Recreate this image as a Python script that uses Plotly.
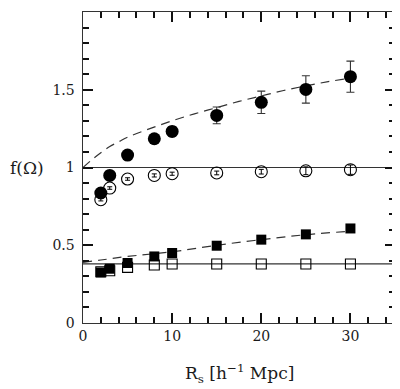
import plotly.graph_objects as go

# Data
rs = [2, 3, 5, 8, 10, 15, 20, 25, 30]
f_filled_circ = [0.836, 0.949, 1.08, 1.185, 1.232, 1.335, 1.419, 1.502, 1.584]
err_filled_circ = [0.01, 0.01, 0.015, 0.02, 0.03, 0.054, 0.072, 0.088, 0.10]
f_open_circ = [0.793, 0.868, 0.926, 0.949, 0.96, 0.965, 0.973, 0.979, 0.986]
err_open_circ = [0.008, 0.008, 0.008, 0.01, 0.01, 0.012, 0.015, 0.025, 0.03]
f_filled_sq = [0.325, 0.349, 0.386, 0.428, 0.45, 0.497, 0.536, 0.570, 0.608]
f_open_sq = [0.33, 0.336, 0.358, 0.373, 0.379, 0.379, 0.379, 0.379, 0.379]

curve_x_hi = [0, 1, 2, 3, 4, 5, 7.5, 10, 12.5, 15, 17.5, 20, 22.5, 25, 27.5, 30]
curve_y_hi = [1.0, 1.05, 1.095, 1.135, 1.165, 1.195, 1.25, 1.30, 1.345, 1.385, 1.425, 1.46, 1.495, 1.525, 1.552, 1.575]
curve_x_lo = [0, 2, 5, 10, 15, 20, 25, 30]
curve_y_lo = [0.39, 0.405, 0.428, 0.458, 0.50, 0.536, 0.568, 0.59]

hline_hi = 1.0
hline_lo = 0.38
x_range = [0, 35]
y_range = [0, 2]

line_col = "#333333"
tick_col = "#111111"
text_col = "#1a1a1a"
font_fam = "DejaVu Serif"

fig = go.Figure()

# horizontal reference lines
fig.add_trace(go.Scatter(x=x_range, y=[hline_hi, hline_hi], mode="lines",
                         line=dict(color=line_col, width=1.2), showlegend=False))
fig.add_trace(go.Scatter(x=x_range, y=[hline_lo, hline_lo], mode="lines",
                         line=dict(color=line_col, width=1.2), showlegend=False))
# dashed curves
fig.add_trace(go.Scatter(x=curve_x_hi, y=curve_y_hi, mode="lines", line_shape="spline",
                         line=dict(color=line_col, width=1.2, dash="9px,6px"), showlegend=False))
fig.add_trace(go.Scatter(x=curve_x_lo, y=curve_y_lo, mode="lines", line_shape="spline",
                         line=dict(color=line_col, width=1.2, dash="9px,6px"), showlegend=False))

# open symbols first
fig.add_trace(go.Scatter(x=rs, y=f_open_circ, mode="markers",
                         marker=dict(symbol="circle-open", size=12, color="black", line=dict(width=1.1)),
                         error_y=dict(type="data", array=err_open_circ, color="black", thickness=1, width=2.5),
                         showlegend=False))
fig.add_trace(go.Scatter(x=rs, y=f_open_sq, mode="markers",
                         marker=dict(symbol="square-open", size=10, color="black", line=dict(width=1.1)),
                         showlegend=False))
# filled symbols
fig.add_trace(go.Scatter(x=rs, y=f_filled_circ, mode="markers",
                         marker=dict(symbol="circle", size=13, color="black"),
                         error_y=dict(type="data", array=err_filled_circ, color=line_col, thickness=1.1, width=4),
                         showlegend=False))
fig.add_trace(go.Scatter(x=rs, y=f_filled_sq, mode="markers",
                         marker=dict(symbol="square", size=10, color="black"),
                         showlegend=False))

fig.update_xaxes(range=x_range, dtick=10, tick0=0, ticks="inside", ticklen=10, tickwidth=1.5,
                 tickcolor=tick_col, showline=True, linecolor=line_col, linewidth=1.2,
                 mirror="allticks",
                 tickfont=dict(family=font_fam, size=14, color=text_col),
                 minor=dict(dtick=2, ticklen=6, ticks="inside", tickcolor=tick_col, tickwidth=1.5))
fig.update_yaxes(range=y_range, dtick=0.5, tick0=0, ticks="inside", ticklen=10, tickwidth=1.5,
                 tickcolor=tick_col, showline=True, linecolor=line_col, linewidth=1.2,
                 mirror="allticks", ticksuffix="\u00a0",
                 tickfont=dict(family=font_fam, size=14, color=text_col),
                 minor=dict(dtick=0.1, ticklen=6, ticks="inside", tickcolor=tick_col, tickwidth=1.5))

fig.add_annotation(text="f(Ω)", xref="paper", yref="y", x=-0.24, y=1.0, showarrow=False,
                   xanchor="left", yanchor="middle", font=dict(family=font_fam, size=17, color=text_col))
fig.add_annotation(text="R<sub>s</sub> [h<sup>−1</sup> Mpc]", xref="paper", yref="paper",
                   x=0.5, y=-0.161, showarrow=False, xanchor="center", yanchor="middle",
                   font=dict(family=font_fam, size=17, color=text_col))

# page body has an 8px default margin, so size and margins compensate for it
fig.update_layout(width=392, height=381, margin=dict(l=75, r=5, t=4, b=66),
                  plot_bgcolor="white", paper_bgcolor="white")

fig.write_html("out.html")
